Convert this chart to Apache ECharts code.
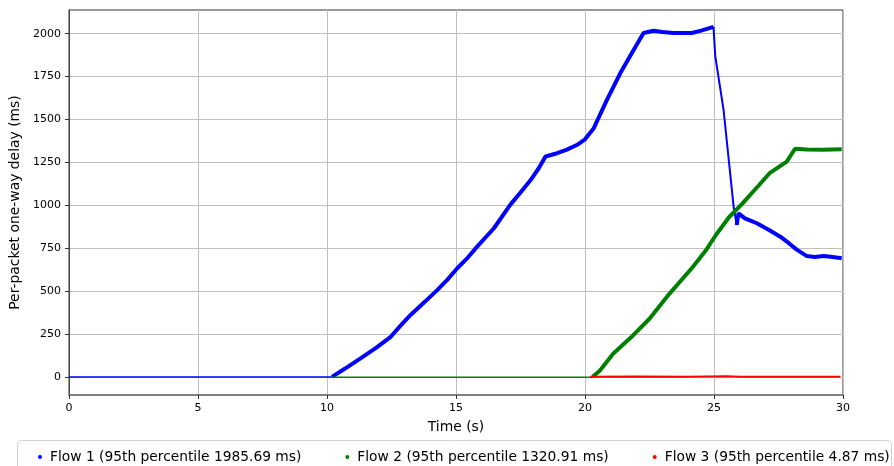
<!DOCTYPE html>
<html>
<head>
<meta charset="utf-8">
<script src="https://cdn.jsdelivr.net/npm/echarts@6/dist/echarts.min.js"></script>
<style>
html,body{margin:0;padding:0;background:#fff;}
#c{width:894px;height:466px;}
</style>
</head>
<body>
<div id="c"></div>
<script>
// ---- data ----
const legendNames = [
  'Flow 1 (95th percentile 1985.69 ms)',
  'Flow 2 (95th percentile 1320.91 ms)',
  'Flow 3 (95th percentile 4.87 ms)'
];
const xTicks = [0, 5, 10, 15, 20, 25, 30];
const yTicks = [0, 250, 500, 750, 1000, 1250, 1500, 1750, 2000];

const flow1Flat = [[0, 1], [10.2, 1]];
const flow1Rise = [
  [10.2, 2], [10.3, 12], [10.7, 50], [11.3, 109], [11.9, 170], [12.47, 235], [12.85, 300],
  [13.24, 362], [13.8, 440], [14.27, 507], [14.65, 565], [15.05, 634], [15.45, 695],
  [15.82, 760], [16.47, 867], [17.1, 1003], [17.5, 1075], [17.9, 1149], [18.2, 1215],
  [18.47, 1285], [18.92, 1304], [19.3, 1325], [19.7, 1353], [20.0, 1385], [20.34, 1450],
  [20.85, 1615], [21.37, 1771], [21.89, 1907], [22.27, 2004], [22.66, 2017], [23.0, 2010],
  [23.43, 2004], [24.14, 2004], [24.5, 2018], [24.98, 2040]
];
const flow1Drop = [[24.98, 2040], [25.05, 1868], [25.37, 1557], [25.76, 993], [25.88, 886]];
const flow1Tail = [
  [25.88, 886], [25.95, 954], [26.2, 925], [26.66, 896], [27.1, 860], [27.57, 818],
  [27.9, 780], [28.22, 741], [28.6, 705], [28.9, 700], [29.25, 705], [29.6, 700], [29.95, 692]
];

const flow2Flat = [[10.2, 0], [20.3, 0]];
const flow2Rise = [
  [20.3, 2], [20.58, 39], [21.09, 136], [21.86, 243], [22.5, 340], [23.27, 485],
  [24.17, 640], [24.68, 737], [25.06, 825], [25.58, 931], [26.09, 1009], [26.73, 1116],
  [27.17, 1190], [27.82, 1255], [28.14, 1330], [28.6, 1326], [29.2, 1324], [29.95, 1327]
];

const flow3 = [[20.2, 3], [22, 4], [24, 3], [25.5, 5], [26, 3], [28, 3], [29.9, 3]];

const colors = ['#0000ff', '#008000', '#ff0000'];
const font = 'DejaVu Sans';

function lineSeries(name, data, color, width) {
  return {
    name: name, type: 'line', data: data, showSymbol: false, symbol: 'none',
    lineStyle: { color: color, width: width }, itemStyle: { color: color },
    animation: false, silent: true
  };
}

const chart = echarts.init(document.getElementById('c'), null, { renderer: 'canvas' });
chart.setOption({
  animation: false,
  textStyle: { fontFamily: font },
  grid: {
    left: 69, right: 51, top: 10, bottom: 71,
    containLabel: false, outerBoundsMode: 'none',
    show: true, borderColor: '#333', borderWidth: 1
  },
  graphic: [{
    type: 'rect', left: 17, top: 440, z: 0,
    shape: { width: 874, height: 40, r: 4 },
    style: { fill: '#fff', stroke: '#d0d0d0', lineWidth: 1 }
  }],
  legend: {
    data: legendNames.map(n => ({ name: n, icon: 'circle' })),
    left: 33, top: 445, width: 860, itemWidth: 4, itemHeight: 4, itemGap: 44,
    textStyle: { fontFamily: font, fontSize: 13.8, color: '#000', padding: [0, 0, 0, 3] },
    selectedMode: false
  },
  xAxis: {
    type: 'value', min: 0, max: 30, interval: 5,
    name: 'Time (s)', nameLocation: 'middle', nameGap: 25,
    nameTextStyle: { fontFamily: font, fontSize: 13.9, color: '#000' },
    axisLine: { show: true, onZero: false, lineStyle: { color: '#808080', width: 2 } },
    axisTick: { show: true, inside: false, length: 4, lineStyle: { color: '#333' } },
    axisLabel: { fontFamily: font, fontSize: 11, color: '#000', margin: 8 },
    splitLine: { show: true, lineStyle: { color: '#c0c0c0', width: 1 } }
  },
  yAxis: {
    type: 'value', min: -104, max: 2138,
    name: 'Per-packet one-way delay (ms)', nameLocation: 'middle', nameGap: 39,
    nameTextStyle: { fontFamily: font, fontSize: 13.9, color: '#000' },
    axisLine: { show: true, onZero: false, lineStyle: { color: '#444', width: 1 } },
    axisTick: { show: true, inside: false, length: 4, lineStyle: { color: '#333' },
      customValues: yTicks },
    axisLabel: { fontFamily: font, fontSize: 11, color: '#000', margin: 8,
      customValues: yTicks, formatter: v => String(v) },
    splitLine: { show: true, lineStyle: { color: '#c0c0c0', width: 1 } }
  },
  series: [
    lineSeries(legendNames[0], flow1Rise, colors[0], 4),
    lineSeries('f1flat', flow1Flat, colors[0], 1.5),
    lineSeries('f1drop', flow1Drop, colors[0], 2),
    lineSeries('f1tail', flow1Tail, colors[0], 4),
    lineSeries(legendNames[1], flow2Rise, colors[1], 4),
    lineSeries('f2flat', flow2Flat, colors[1], 1.5),
    lineSeries(legendNames[2], flow3, colors[2], 2)
  ]
});
</script>
</body>
</html>
